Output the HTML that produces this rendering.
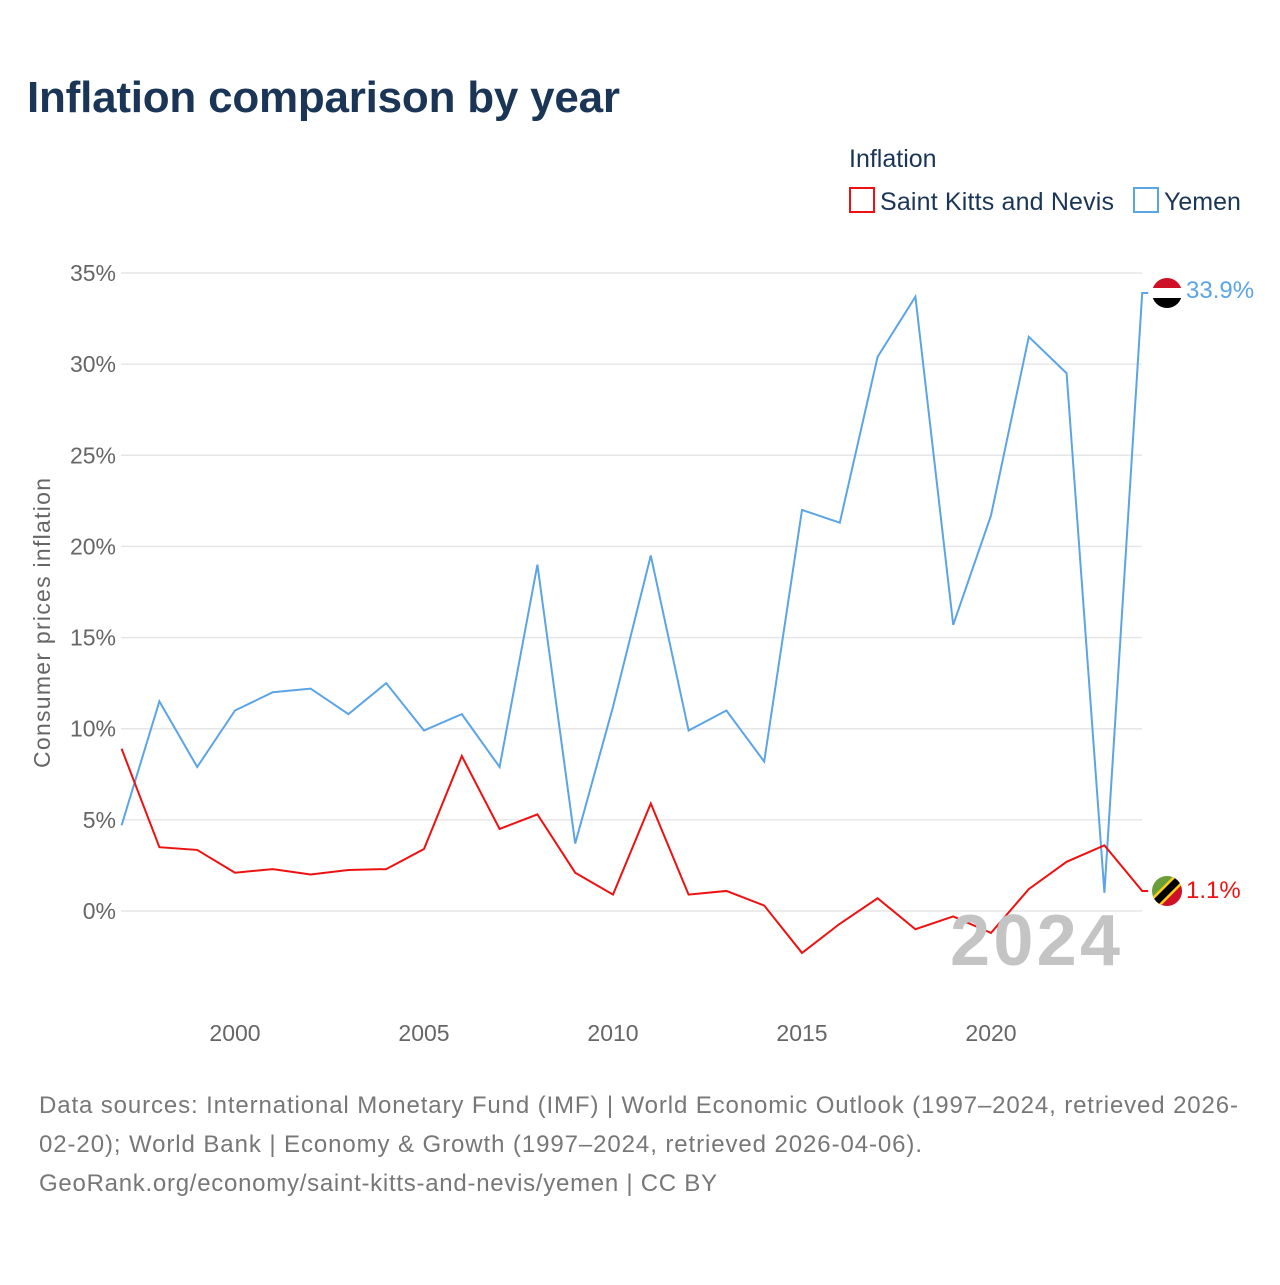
<!DOCTYPE html>
<html><head><meta charset="utf-8"><style>
body{margin:0;width:1280px;height:1280px;background:#fff;font-family:"Liberation Sans",sans-serif;overflow:hidden}
</style></head><body>
<svg width="1280" height="1280" id="chart" xmlns="http://www.w3.org/2000/svg">
<text x="27" y="112" font-size="44" font-weight="bold" fill="#1a3556" textLength="593">Inflation comparison by year</text>
<text x="849" y="167" font-size="25" fill="#1a3556">Inflation</text>
<g><rect x="850" y="188" width="24" height="24" fill="none" stroke="#ee1111" stroke-width="2"/><text x="880" y="210" font-size="25" fill="#1a3556" textLength="234">Saint Kitts and Nevis</text></g>
<g><rect x="1134" y="188" width="24" height="24" fill="none" stroke="#5ba4e6" stroke-width="2"/><text x="1164" y="210" font-size="25" fill="#1a3556">Yemen</text></g>
<text transform="translate(50,623) rotate(-90)" text-anchor="middle" font-size="23" fill="#666" textLength="290">Consumer prices inflation</text>
<g id="grid"></g><g id="lines"></g>
<text x="950" y="965" font-size="72" font-weight="bold" fill="#c4c4c4" textLength="170">2024</text>
<g><clipPath id="cy"><circle cx="1167" cy="293" r="15"/></clipPath><g clip-path="url(#cy)"><rect x="1150" y="276" width="34" height="12" fill="#ce1126"/><rect x="1150" y="288" width="34" height="10" fill="#fff"/><rect x="1150" y="298" width="34" height="12" fill="#000"/></g></g>
<g><clipPath id="ck"><circle cx="1167" cy="891" r="15"/></clipPath><g clip-path="url(#ck)"><polygon points="1150,874 1184,874 1150,908" fill="#6a9e3a"/><polygon points="1184,874 1184,908 1150,908" fill="#ce1126"/><line x1="1150" y1="908" x2="1184" y2="874" stroke="#fcd116" stroke-width="12"/><line x1="1150" y1="908" x2="1184" y2="874" stroke="#000" stroke-width="7"/></g></g>
<text x="1186" y="298" font-size="24" fill="#5ba4e6">33.9%</text>
<text x="1186" y="898" font-size="24" fill="#ee1111">1.1%</text>
<text font-size="24" fill="#777"><tspan x="39" y="1113" textLength="1199">Data sources: International Monetary Fund (IMF) | World Economic Outlook (1997–2024, retrieved 2026-</tspan><tspan x="39" y="1152" textLength="883">02-20); World Bank | Economy &amp; Growth (1997–2024, retrieved 2026-04-06).</tspan><tspan x="39" y="1191" textLength="678">GeoRank.org/economy/saint-kitts-and-nevis/yemen | CC BY</tspan></text>
</svg>
<script>
const years=[1997,1998,1999,2000,2001,2002,2003,2004,2005,2006,2007,2008,2009,2010,2011,2012,2013,2014,2015,2016,2017,2018,2019,2020,2021,2022,2023,2024];
const yemen=[4.7,11.5,7.9,11.0,12.0,12.2,10.8,12.5,9.9,10.8,7.9,19.0,3.7,11.2,19.5,9.9,11.0,8.2,22.0,21.3,30.4,33.7,15.7,21.7,31.5,29.5,1.0,33.9];
const skn=[8.9,3.5,3.35,2.1,2.3,2.0,2.25,2.3,3.4,8.5,4.5,5.3,2.1,0.9,5.9,0.9,1.1,0.3,-2.3,-0.7,0.7,-1.0,-0.3,-1.2,1.2,2.7,3.6,1.1];
const yTicks=[0,5,10,15,20,25,30,35];
const xTicks=[2000,2005,2010,2015,2020];
const X=y=>121.6+(y-1997)*37.8;
const Y=v=>911-v*18.229;
const NS="http://www.w3.org/2000/svg";
const grid=document.getElementById('grid'),lines=document.getElementById('lines');
yTicks.forEach(t=>{
 const l=document.createElementNS(NS,'line');
 l.setAttribute('x1',121);l.setAttribute('x2',1142);l.setAttribute('y1',Y(t));l.setAttribute('y2',Y(t));
 l.setAttribute('stroke','#e6e6e6');l.setAttribute('stroke-width',1.5);
 
 
 grid.appendChild(l);
 const tx=document.createElementNS(NS,'text');
 tx.setAttribute('x',116);tx.setAttribute('y',Y(t)+8);tx.setAttribute('text-anchor','end');
 tx.setAttribute('font-size',23);tx.setAttribute('fill','#666');tx.textContent=t+'%';
 
 
 grid.appendChild(tx);
});
xTicks.forEach(t=>{
 const tx=document.createElementNS(NS,'text');
 tx.setAttribute('x',X(t));tx.setAttribute('y',1041);tx.setAttribute('text-anchor','middle');
 tx.setAttribute('font-size',23);tx.setAttribute('fill','#666');tx.textContent=t;
 
 
 grid.appendChild(tx);
});
function draw(vals,color,name){
 const p=document.createElementNS(NS,'polyline');
 let pts=vals.map((v,i)=>X(years[i])+','+Y(v));
 pts.push((X(years[years.length-1])+6)+','+Y(vals[vals.length-1]));
 p.setAttribute('points',pts.join(' '));
 p.setAttribute('fill','none');p.setAttribute('stroke',color);p.setAttribute('stroke-width',2);
 
 
 lines.appendChild(p);
}
draw(yemen,'#5ba4e6','yemen-line');
draw(skn,'#ee1111','saint-kitts-line');
</script>
</body></html>
